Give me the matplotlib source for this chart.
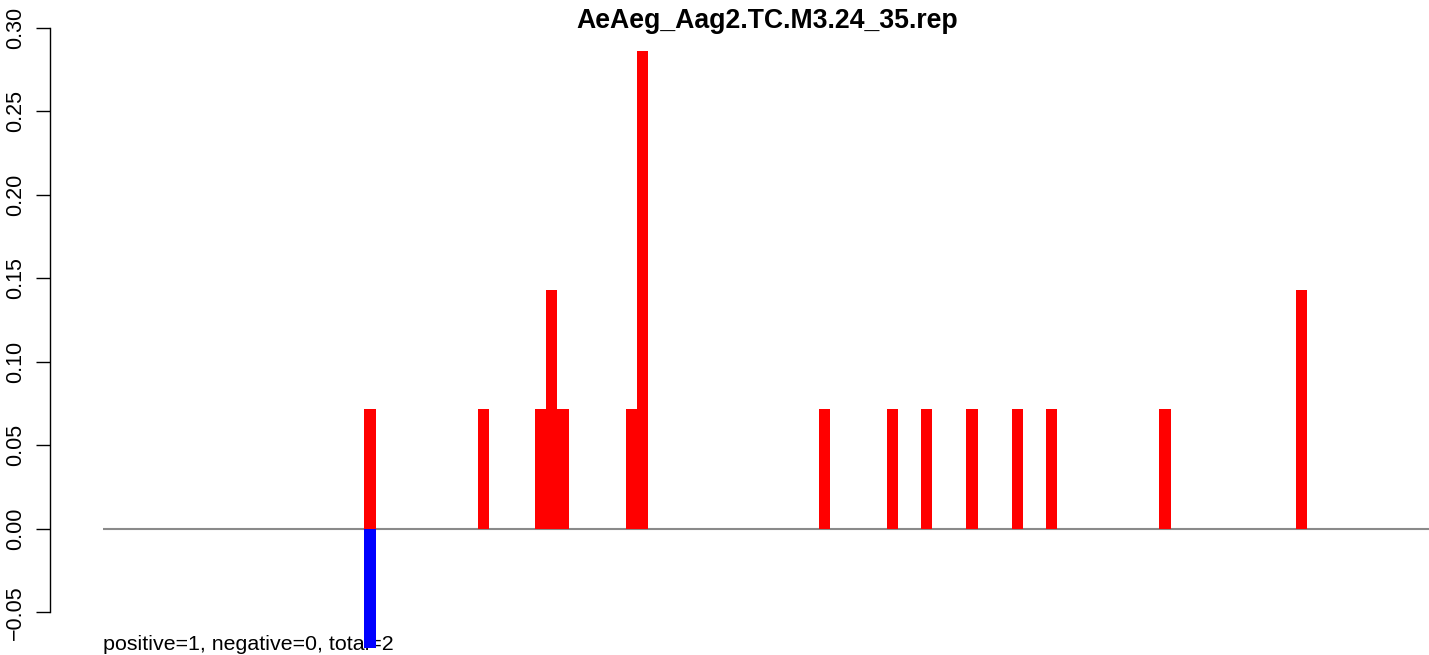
import matplotlib
matplotlib.use("Agg")
import matplotlib.pyplot as plt

plt.rcParams['font.family'] = ['Liberation Sans', 'DejaVu Sans']

title = "AeAeg_Aag2.TC.M3.24_35.rep"
footer = "positive=1, negative=0, total=2"
n_bins = 117

pos_x = [23, 33, 38, 39, 40, 46, 47, 63, 69, 72, 76, 80, 83, 93, 105]
pos_y = [0.0714, 0.0714, 0.0714, 0.1429, 0.0714, 0.0714, 0.2857,
         0.0714, 0.0714, 0.0714, 0.0714, 0.0714, 0.0714, 0.0714, 0.1429]
neg_x = [23]
neg_y = [-0.0714]
yticks = [-0.05, 0.00, 0.05, 0.10, 0.15, 0.20, 0.25, 0.30]
ytick_labels = ["\u22120.05", "0.00", "0.05", "0.10", "0.15", "0.20", "0.25", "0.30"]

W, H = 1429, 655
fig = plt.figure(figsize=(W / 100, H / 100), dpi=100)
left_px, right_px = 50.2, 1484.9
top_px, bot_px = 27.5, 672.0
ax = fig.add_axes([left_px / W, 1 - bot_px / H, (right_px - left_px) / W, (bot_px - top_px) / H])

ax.set_xlim(-0.04 * n_bins, n_bins * 1.04)
ax.set_ylim(-0.0857, 0.30)

ax.plot([0, n_bins], [0, 0], color='#8a8a8a', lw=1.5, zorder=1, solid_capstyle='butt')
ax.text(0, -0.0724, footer, fontsize=15.4, ha='left', va='baseline', zorder=2)
ax.bar(pos_x, pos_y, width=1, align='edge', color='#FF0000', linewidth=0, zorder=3)
ax.bar(neg_x, neg_y, width=1, align='edge', color='#0000FF', linewidth=0, zorder=3)

for s in ['top', 'right', 'bottom']:
    ax.spines[s].set_visible(False)
ax.spines['left'].set_bounds(-0.05, 0.30)
ax.spines['left'].set_linewidth(1.0)
ax.set_xticks([])
ax.set_yticks(yticks)
ax.set_yticklabels(ytick_labels, rotation=90, va='center', fontsize=15.5)
ax.tick_params(axis='y', length=10, width=1.0, pad=7.5)

fig.text((left_px + right_px) / 2 / W, 1 - 28 / H, title, ha='center', va='baseline',
         fontsize=19.2, fontweight='bold')

fig.savefig('out.png', dpi=100)
